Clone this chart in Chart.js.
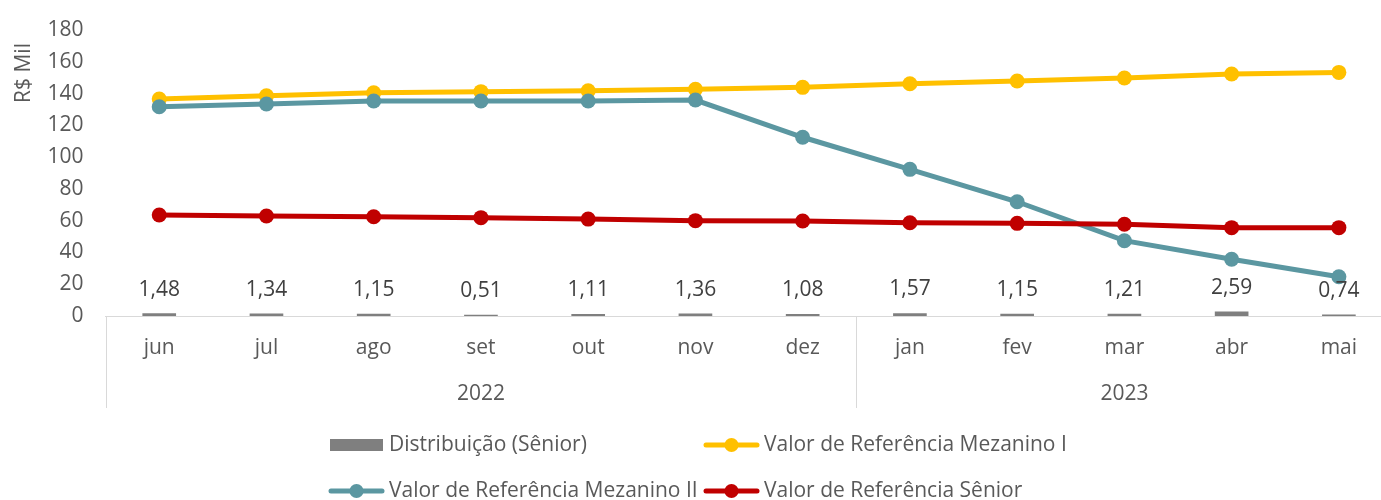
<!DOCTYPE html>
<html><head><meta charset="utf-8">
<script src="https://cdn.jsdelivr.net/npm/chart.js@4.4.1/dist/chart.umd.min.js"></script>
<style>html,body{margin:0;padding:0;overflow:hidden;background:#fff}#wrap{position:absolute;left:0;top:0;width:1400px;height:500px}</style>
</head><body><div id="wrap"><canvas id="c" width="1400" height="500"></canvas></div>
<script>
const months = ['jun','jul','ago','set','out','nov','dez','jan','fev','mar','abr','mai'];
const yearLabels = ['2022','2023'];
const yearSpans = [7,5];
const distribuicao = [1.48,1.34,1.15,0.51,1.11,1.36,1.08,1.57,1.15,1.21,2.59,0.74];
const mezaninoI = [136.6,138.6,140.5,141.2,141.8,142.7,143.9,146.2,147.9,149.8,152.3,153.3];
const mezaninoII = [131.7,133.4,135.3,135.3,135.3,135.9,112.5,92.3,71.9,47.4,35.7,24.7];
const senior = [63.6,62.9,62.5,61.9,61.0,60.0,59.8,58.7,58.3,57.7,55.6,55.6];
const yMin = 0, yMax = 180, yStep = 20;
const yTitle = 'R$ Mil';

const FONT = '"Open Sans", sans-serif';
const FS = 21;
const TXT = '#595959';
const GRID = '#d9d9d9';

const decorPlugin = {
  id: 'decor',
  afterDatasetsDraw(chart) {
    const ctx = chart.ctx;
    const x = chart.scales.x, ca = chart.chartArea;
    ctx.save();
    // bar value labels
    const meta = chart.getDatasetMeta(0);
    ctx.font = FS + 'px ' + FONT;
    ctx.fillStyle = '#404040';
    ctx.textAlign = 'center';
    ctx.textBaseline = 'middle';
    meta.data.forEach((el, i) => {
      const v = chart.data.datasets[0].data[i];
      ctx.fillText(v.toFixed(2).replace('.', ','), el.x, el.y - 24);
    });
    // month labels
    ctx.fillStyle = TXT;
    months.forEach((m, i) => ctx.fillText(m, x.getPixelForValue(i), ca.bottom + 32));
    // year groups & separators
    ctx.strokeStyle = GRID; ctx.lineWidth = 1;
    let start = 0;
    const edges = [];
    yearSpans.forEach((n, k) => {
      const l = x.getPixelForValue(start) - x.width / months.length / 2;
      const r = x.getPixelForValue(start + n - 1) + x.width / months.length / 2;
      edges.push(l, r);
      ctx.fillText(yearLabels[k], (l + r) / 2, ca.bottom + 78);
      start += n;
    });
    [...new Set(edges.map(e => Math.round(e)))].forEach(e => {
      ctx.beginPath(); ctx.moveTo(e + 0.5, ca.bottom); ctx.lineTo(e + 0.5, ca.bottom + 92); ctx.stroke();
    });
    // y title
    ctx.save();
    ctx.translate(24, 73);
    ctx.rotate(-Math.PI / 2);
    ctx.font = FS + 'px ' + FONT;
    ctx.fillStyle = TXT;
    ctx.fillText(yTitle, 0, 0);
    ctx.restore();
    // legend
    const slots = [[329, 445], [704, 445], [329, 491], [704, 491]];
    chart.data.datasets.forEach((ds, i) => {
      const [lx, ly] = slots[i];
      if (ds.type === 'line') {
        ctx.strokeStyle = ds.borderColor; ctx.lineWidth = 5; ctx.lineCap = 'round';
        ctx.beginPath(); ctx.moveTo(lx + 2, ly); ctx.lineTo(lx + 53, ly); ctx.stroke();
        ctx.fillStyle = ds.borderColor;
        ctx.beginPath(); ctx.arc(lx + 27.5, ly, 7, 0, Math.PI * 2); ctx.fill();
      } else {
        ctx.fillStyle = ds.backgroundColor;
        ctx.fillRect(lx + 1, ly - 6, 53, 12);
      }
      ctx.fillStyle = TXT; ctx.textAlign = 'left';
      ctx.font = FS + 'px ' + FONT;
      ctx.fillText(ds.label, lx + 60, ly);
      ctx.textAlign = 'center';
    });
    ctx.restore();
  }
};

new Chart(document.getElementById('c'), {
  type: 'bar',
  data: {
    labels: months,
    datasets: [
      { type: 'bar', label: 'Distribuição (Sênior)', data: distribuicao, backgroundColor: '#7f7f7f', barThickness: 33, order: 5 },
      { type: 'line', label: 'Valor de Referência Mezanino I', data: mezaninoI, borderColor: '#ffc000', backgroundColor: '#ffc000', borderWidth: 5, pointRadius: 7.5, pointHoverRadius: 7.5, pointBorderWidth: 0, tension: 0, order: 3 },
      { type: 'line', label: 'Valor de Referência Mezanino II', data: mezaninoII, borderColor: '#5b97a1', backgroundColor: '#5b97a1', borderWidth: 5, pointRadius: 7.5, pointHoverRadius: 7.5, pointBorderWidth: 0, tension: 0, order: 2 },
      { type: 'line', label: 'Valor de Referência Sênior', data: senior, borderColor: '#c00000', backgroundColor: '#c00000', borderWidth: 5, pointRadius: 7.5, pointHoverRadius: 7.5, pointBorderWidth: 0, tension: 0, order: 1 }
    ]
  },
  options: {
    responsive: false,
    devicePixelRatio: 1,
    animation: false,
    layout: { padding: { left: 0, right: 7, top: 30, bottom: 184 } },
    plugins: { legend: { display: false }, tooltip: { enabled: false } },
    scales: {
      x: {
        grid: { display: false },
        border: { display: true, color: GRID, width: 1 },
        ticks: { display: false },
        afterFit(s) { s.height = 0; }
      },
      y: {
        min: yMin, max: yMax,
        grid: { display: false, drawTicks: false },
        border: { display: false },
        ticks: { stepSize: yStep, padding: 22, color: TXT, font: { family: FONT, size: FS } },
        afterFit(s) { s.width = 105.6; s.paddingTop = 0; s.paddingBottom = 0; }
      }
    }
  },
  plugins: [decorPlugin]
});
</script>
</body></html>
